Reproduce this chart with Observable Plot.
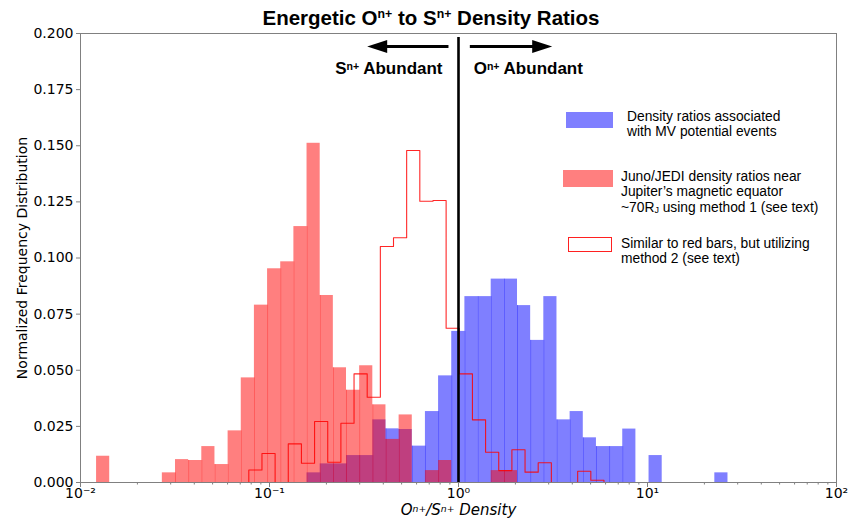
<!DOCTYPE html>
<html>
<head>
<meta charset="utf-8">
<script src="https://cdn.jsdelivr.net/npm/d3@7"></script>
<script src="https://cdn.jsdelivr.net/npm/@observablehq/plot@0.6"></script>
<style>
  body { margin: 0; background: #fff; }
  #fig { position: relative; width: 852px; height: 524px; font-family: "Liberation Sans", Arial, sans-serif; color: #000; }
  #chart { position: absolute; left: 0; top: 0; }
  #title { position: absolute; left: 0; width: 862px; top: 6px; text-align: center; font-weight: bold; font-size: 20.5px; line-height: 24px; }
  #title sup { font-size: 0.6em; vertical-align: baseline; position: relative; top: -0.6em; }
  .legtext { position: absolute; font-size: 13.8px; line-height: 15.5px; white-space: nowrap; }
  .legtext sub { font-size: 0.65em; vertical-align: baseline; position: relative; top: 0.2em; }
  .sw { position: absolute; box-sizing: border-box; }
</style>
</head>
<body>
<div id="fig">
  <div id="chart"></div>
  <div id="title">Energetic O<sup>n+</sup> to S<sup>n+</sup> Density Ratios</div>
  <div class="sw" style="left:566px;top:112px;width:47px;height:16px;background:#7f7fff;"></div>
  <div class="legtext" style="left:627px;top:108.5px;">Density ratios associated<br>with MV potential events</div>
  <div class="sw" style="left:563px;top:170px;width:50px;height:17px;background:#ff7f7f;"></div>
  <div class="legtext" style="left:621px;top:168.5px;">Juno/JEDI density ratios near<br>Jupiter’s magnetic equator<br>~70R<sub>J</sub> using method 1 (see text)</div>
  <div class="sw" style="left:568px;top:237px;width:44px;height:15px;border:1.3px solid #ff2020;background:#fff;"></div>
  <div class="legtext" style="left:621px;top:235.5px;">Similar to red bars, but utilizing<br>method 2 (see text)</div>
</div>
<script>
// Histogram bins are evenly spaced in log10(ratio)
const binStep = 0.0696;          // bin width, decades
const method1Lo = -1.915;        // first edge of the shared filled-bar bins (log10)
const method2Lo = -1.1095;       // first edge of the method-2 step histogram (log10)

// Normalized frequency per bin (shared bins, 48 of them)
const mvEvents = [
  0, 0, 0, 0, 0, 0, 0, 0, 0, 0, 0, 0, 0, 0, 0, 0,
  0.0043, 0.0083, 0.0083, 0.012, 0.012, 0.0279, 0.0239, 0.0236,
  0.0162, 0.0316, 0.0475, 0.0673, 0.0828, 0.0828, 0.0906, 0.0906,
  0.0788, 0.0633, 0.0828, 0.0279, 0.0316, 0.0199, 0.016, 0.016,
  0.0238, 0, 0.012, 0, 0, 0, 0, 0.0043
];
const jediMethod1 = [
  0.0117, 0, 0, 0, 0, 0.0043, 0.0102, 0.0098,
  0.016, 0.008, 0.023, 0.0466, 0.079, 0.0952, 0.0983, 0.114,
  0.1511, 0.0833, 0.0511, 0.0411, 0.052, 0.0346, 0.0192, 0.0301,
  0, 0.0053, 0.0098, 0, 0, 0, 0.0053, 0.0053,
  0, 0, 0, 0, 0, 0, 0, 0, 0, 0, 0, 0, 0, 0, 0, 0
];
// Method 2 (step outline), 27 bins starting at method2Lo
const jediMethod2 = [
  0.0056, 0.0129, 0, 0.0172, 0.0086, 0.0272, 0.009, 0.0264, 0.0484,
  0.038, 0.1051, 0.109, 0.1479, 0.1253, 0.1256, 0.0687, 0.0484, 0.0279,
  0.0135, 0.0053, 0.0146, 0.0046, 0.0088, 0, 0, 0.005, 0.001
];

const xTicks = [0.01, 0.1, 1, 10, 100];
const xTickLabels = ["10⁻²", "10⁻¹", "10⁰", "10¹", "10²"];
const yTicks = [0, 0.025, 0.05, 0.075, 0.1, 0.125, 0.15, 0.175, 0.2];

// Annotations: unity line, direction arrows and their labels
const unityRatio = 1;
const unityTop = 0.1982;
const arrows = [
  {tail: 0.885, head: 0.3625, y: 0.1942, dir: -1},
  {tail: 1.148, head: 2.84, y: 0.1942, dir: 1}
];
const sideLabels = [
  {x: 0.428, y: 0.1842, text: "Sⁿ⁺ Abundant"},
  {x: 2.34, y: 0.1842, text: "Oⁿ⁺ Abundant"}
];

const edge = (lo, i) => 10 ** (lo + i * binStep);
const toBars = (vals) => vals
  .map((v, i) => ({x1: edge(method1Lo, i), x2: edge(method1Lo, i + 1), y: v}))
  .filter(d => d.y > 0);
// darker seams where two neighbouring translucent bars meet
const seams = (vals) => vals.slice(0, -1)
  .map((v, i) => ({x: edge(method1Lo, i + 1), y: Math.min(v, vals[i + 1])}))
  .filter(d => d.y > 0);
const stepPoints = [
  {x: edge(method2Lo, 0), y: 0},
  ...jediMethod2.map((v, i) => ({x: edge(method2Lo, i), y: v})),
  {x: edge(method2Lo, jediMethod2.length), y: 0}
];

const minorTicks = [];
for (let e = -2; e < 2; e++) for (let m = 2; m < 10; m++) minorTicks.push(m * 10 ** e);

const headSymbol = (dir) => ({
  draw(ctx) {
    ctx.moveTo(8 * dir, 0);
    ctx.lineTo(-12 * dir, -6.5);
    ctx.lineTo(-12 * dir, 6.5);
    ctx.closePath();
  }
});

const grey = "#808080";
const chart = Plot.plot({
  width: 852,
  height: 524,
  marginLeft: 80,
  marginRight: 16,
  marginTop: 33,
  marginBottom: 42,
  style: {fontFamily: "'DejaVu Sans', sans-serif", fontSize: "14px", color: "#000", background: "transparent", overflow: "visible"},
  x: {type: "log", domain: [0.01, 100]},
  y: {domain: [0, 0.2]},
  marks: [
    Plot.rectY(toBars(mvEvents), {x1: "x1", x2: "x2", y: "y", fill: "#0000ff", fillOpacity: 0.5}),
    Plot.ruleX(seams(mvEvents), {x: "x", y1: 0, y2: "y", stroke: "#0000ff", strokeOpacity: 0.3, strokeWidth: 1}),
    Plot.rectY(toBars(jediMethod1), {x1: "x1", x2: "x2", y: "y", fill: "#ff0000", fillOpacity: 0.5}),
    Plot.ruleX(seams(jediMethod1), {x: "x", y1: 0, y2: "y", stroke: "#ff0000", strokeOpacity: 0.3, strokeWidth: 1}),
    Plot.line(stepPoints, {x: "x", y: "y", curve: "step-after", stroke: "#ff0000", strokeOpacity: 0.85, strokeWidth: 1.1}),
    Plot.ruleX([unityRatio], {y1: 0, y2: unityTop, stroke: "black", strokeWidth: 2.6}),
    Plot.link(arrows, {x1: "tail", x2: "head", y1: "y", y2: "y", stroke: "black", strokeWidth: 3}),
    Plot.dot(arrows.filter(d => d.dir < 0), {x: "head", y: "y", symbol: headSymbol(-1), fill: "black", stroke: "none"}),
    Plot.dot(arrows.filter(d => d.dir > 0), {x: "head", y: "y", symbol: headSymbol(1), fill: "black", stroke: "none"}),
    Plot.text(sideLabels, {x: "x", y: "y", text: "text", fontFamily: "'Liberation Sans', Arial, sans-serif", fontWeight: "bold", fontSize: 17, fill: "black"}),
    Plot.axisY({ticks: yTicks, tickFormat: d3.format(".3f"), tickSize: 4, tickPadding: 3, stroke: grey, fill: "black", label: null}),
    Plot.axisX({ticks: minorTicks, tickFormat: () => "", tickSize: 2.5, stroke: grey, label: null}),
    Plot.axisX({ticks: xTicks, tickFormat: (d) => xTickLabels[xTicks.indexOf(d)], tickSize: 5, tickPadding: 1, stroke: grey, fill: "black", label: null}),
    Plot.text(["Normalized Frequency Distribution"], {frameAnchor: "left", dx: -58, rotate: -90, textAnchor: "middle", text: d => d, fontSize: 14, fill: "black"}),
    Plot.text(["Oⁿ⁺/Sⁿ⁺ Density"], {frameAnchor: "bottom", dy: 32, textAnchor: "middle", text: d => d, fontSize: 15, fontStyle: "italic", fill: "black"}),
    Plot.frame({stroke: grey})
  ]
});

// Typeset the "n+" charge labels as true superscripts
d3.select(chart).selectAll("text").each(function () {
  const t = this.textContent;
  if (!t.includes("ⁿ⁺")) return;
  const italic = d3.select(this).attr("font-style") === "italic";
  const sel = d3.select(this).text(null);
  t.split("ⁿ⁺").forEach((part, i, all) => {
    if (part) sel.append("tspan").text(part);
    if (i < all.length - 1) sel.append("tspan")
      .attr("baseline-shift", "38%").attr("font-size", italic ? "0.72em" : "0.62em").text(italic ? "n +" : "n+");
  });
});
document.getElementById("chart").appendChild(chart);
</script>
</body>
</html>
